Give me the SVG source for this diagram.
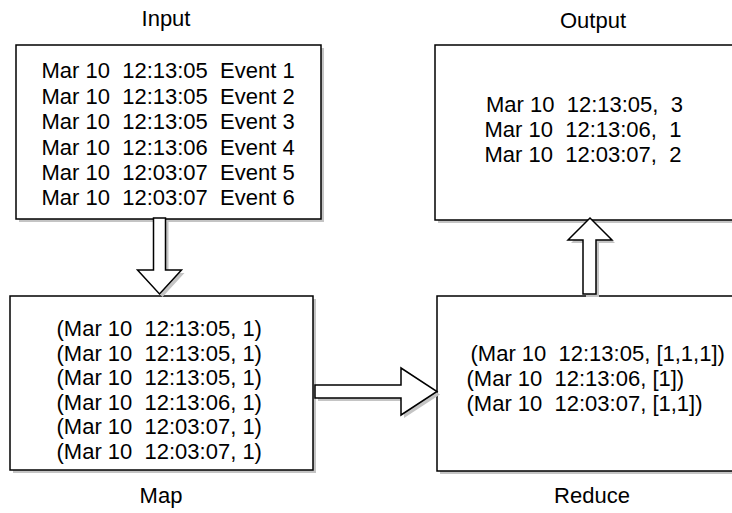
<svg xmlns="http://www.w3.org/2000/svg" width="732" height="513" viewBox="0 0 732 513">
  <style>
    .box { fill: #ffffff; stroke: #000000; stroke-width: 1.5; }
    .shadow { fill: #c4c4c4; stroke: none; }
    .arrow { fill: #ffffff; stroke: #000000; stroke-width: 1.5; stroke-linejoin: miter; }
    text { font-family: "Liberation Sans", Arial, Helvetica, sans-serif; font-size: 22px; fill: #000000; white-space: pre; }
    .title { text-anchor: middle; }
  </style>
  <rect width="732" height="513" fill="#ffffff"/>

  <!-- Input -->
  <g id="input">
    <rect class="shadow" x="19" y="48" width="305" height="174"/>
    <rect class="box" x="16" y="45" width="305" height="174"/>
    <text class="title" x="166" y="26">Input</text>
    <text x="41.5" y="78.3">Mar 10  12:13:05  Event 1</text>
    <text x="41.5" y="103.7">Mar 10  12:13:05  Event 2</text>
    <text x="41.5" y="129.1">Mar 10  12:13:05  Event 3</text>
    <text x="41.5" y="154.5">Mar 10  12:13:06  Event 4</text>
    <text x="41.5" y="179.9">Mar 10  12:03:07  Event 5</text>
    <text x="41.5" y="205.3">Mar 10  12:03:07  Event 6</text>
  </g>

  <!-- Output -->
  <g id="output">
    <rect class="shadow" x="438" y="48" width="310" height="175"/>
    <rect class="box" x="435" y="45" width="310" height="175"/>
    <text class="title" x="593" y="28">Output</text>
    <text x="486" y="112">Mar 10  12:13:05,  3</text>
    <text x="484.5" y="137">Mar 10  12:13:06,  1</text>
    <text x="484.5" y="162">Mar 10  12:03:07,  2</text>
  </g>

  <!-- Map -->
  <g id="map">
    <rect class="shadow" x="13" y="299" width="303" height="174"/>
    <rect class="box" x="10" y="296" width="303" height="174"/>
    <text class="title" x="161" y="503">Map</text>
    <text x="56.5" y="336">(Mar 10  12:13:05, 1)</text>
    <text x="56.5" y="360.6">(Mar 10  12:13:05, 1)</text>
    <text x="56.5" y="385.2">(Mar 10  12:13:05, 1)</text>
    <text x="56.5" y="409.8">(Mar 10  12:13:06, 1)</text>
    <text x="56.5" y="434.4">(Mar 10  12:03:07, 1)</text>
    <text x="56.5" y="459">(Mar 10  12:03:07, 1)</text>
  </g>

  <!-- Reduce -->
  <g id="reduce">
    <rect class="shadow" x="440" y="299" width="310" height="175"/>
    <rect class="box" x="437" y="296" width="310" height="175"/>
    <text class="title" x="592" y="503">Reduce</text>
    <text x="470.5" y="361">(Mar 10  12:13:05, [1,1,1])</text>
    <text x="466.5" y="386">(Mar 10  12:13:06, [1])</text>
    <text x="466.5" y="411">(Mar 10  12:03:07, [1,1])</text>
  </g>

  <!-- Connectors: block arrows between stages -->
  <g id="connectors">
    <!-- Input to Map -->
    <polygon class="shadow" points="156.5,221 168.5,221 168.5,273 184.5,273 162.5,297 140.5,273 156.5,273"/>
    <polygon class="arrow" points="153.5,218 165.5,218 165.5,270 181.5,270 159.5,294 137.5,270 153.5,270"/>
    <!-- Map to Reduce -->
    <polygon class="shadow" points="318,388 404,388 404,371 440,394.5 404,418 404,401 318,401"/>
    <polygon class="arrow" points="315,385 401,385 401,368 437,391.5 401,415 401,398 315,398"/>
    <!-- Reduce to Output -->
    <polygon class="shadow" points="586,297 599,297 599,243 615,243 593,221 571,243 586,243"/>
    <polygon class="arrow" points="583,294 596,294 596,240 612,240 590,218 568,240 583,240"/>
  </g>
</svg>
